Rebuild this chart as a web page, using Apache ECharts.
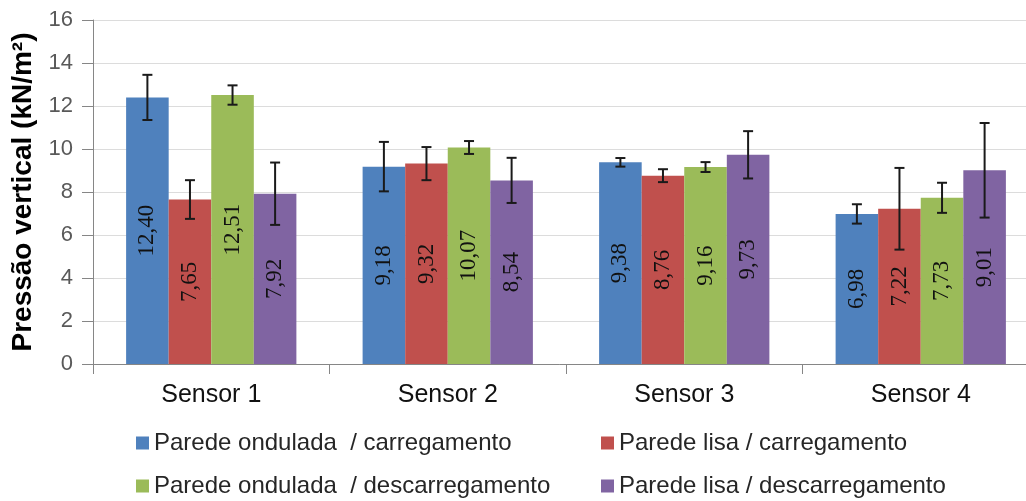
<!DOCTYPE html>
<html>
<head>
<meta charset="utf-8">
<script src="https://cdn.jsdelivr.net/npm/echarts@6/dist/echarts.min.js"></script>
<style>html,body{margin:0;padding:0;background:#fff;}#c{width:1026px;height:501px;}</style>
</head>
<body>
<div id="c"></div>
<script>
const categories = ['Sensor 1', 'Sensor 2', 'Sensor 3', 'Sensor 4'];
const seriesNames = ['Parede ondulada  / carregamento', 'Parede lisa / carregamento', 'Parede ondulada  / descarregamento', 'Parede lisa / descarregamento'];
const ondCarr = [12.40, 9.18, 9.38, 6.98];
const lisaCarr = [7.65, 9.32, 8.76, 7.22];
const ondDesc = [12.51, 10.07, 9.16, 7.73];
const lisaDesc = [7.92, 8.54, 9.73, 9.01];
const ondCarrErr = [1.05, 1.15, 0.20, 0.45];
const lisaCarrErr = [0.90, 0.77, 0.30, 1.90];
const ondDescErr = [0.45, 0.30, 0.23, 0.70];
const lisaDescErr = [1.45, 1.05, 1.10, 2.20];
const colors = ['#4F81BD', '#C0504D', '#9BBB59', '#8064A2'];

const values = [ondCarr, lisaCarr, ondDesc, lisaDesc];
const errors = [ondCarrErr, lisaCarrErr, ondDescErr, lisaDescErr];
const catGap = 0.28;

const chart = echarts.init(document.getElementById('c'));

const barSeries = values.map((v, i) => ({
  name: seriesNames[i],
  type: 'bar',
  data: v,
  barGap: '0%',
  barCategoryGap: (catGap * 100) + '%',
  itemStyle: { color: colors[i] },
  label: {
    show: true,
    position: 'inside',
    rotate: 90,
    fontFamily: 'Liberation Serif',
    fontSize: 23,
    color: '#111',
    formatter: p => p.value.toFixed(2).replace('.', ',')
  },
  z: 2
}));

const errData = [];
values.forEach((v, s) => v.forEach((val, c) => errData.push([c, val - errors[s][c], val + errors[s][c], s])));

const errSeries = {
  type: 'custom',
  coordinateSystem: 'cartesian2d',
  data: errData,
  encode: { x: 0, y: [1, 2] },
  z: 10,
  silent: true,
  renderItem: function (params, api) {
    const c = api.value(0), lo = api.value(1), hi = api.value(2), s = api.value(3);
    const band = api.size([1, 0])[0];
    const groupW = band * (1 - catGap);
    const bw = groupW / 4;
    const base = api.coord([c, lo]);
    const top = api.coord([c, hi]);
    const x = base[0] - groupW / 2 + bw * (s + 0.5);
    const cap = 5;
    const style = { stroke: '#1a1a1a', lineWidth: 2 };
    return {
      type: 'group',
      children: [
        { type: 'line', shape: { x1: x, y1: top[1], x2: x, y2: base[1] }, style: style },
        { type: 'line', shape: { x1: x - cap, y1: top[1], x2: x + cap, y2: top[1] }, style: style },
        { type: 'line', shape: { x1: x - cap, y1: base[1], x2: x + cap, y2: base[1] }, style: style }
      ]
    };
  }
};

const legendText = { fontFamily: 'Arial, Liberation Sans', fontSize: 24, color: '#262626' };
const legendPos = [[136, 431], [601, 431], [136, 474], [601, 474]];
const legends = seriesNames.map((n, i) => ({
  data: [n], left: legendPos[i][0], top: legendPos[i][1],
  itemWidth: 13, itemHeight: 13, itemGap: 5, icon: 'rect', padding: 0, textStyle: legendText
}));

chart.setOption({
  animation: false,
  backgroundColor: '#ffffff',
  grid: { left: 93, top: 20, right: -13, bottom: 137, outerBoundsMode: 'none', containLabel: false },
  legend: legends,
  xAxis: {
    type: 'category',
    data: categories,
    axisLine: { lineStyle: { color: '#868686', width: 1 } },
    axisTick: { show: true, length: 10, lineStyle: { color: '#868686' } },
    axisLabel: { fontFamily: 'Arial, Liberation Sans', fontSize: 25, color: '#111', margin: 19 }
  },
  yAxis: {
    type: 'value',
    min: 0,
    max: 16,
    interval: 2,
    name: 'Pressão vertical (kN/m²)',
    nameLocation: 'middle',
    nameGap: 53,
    nameRotate: 90,
    nameTextStyle: { fontFamily: 'Arial, Liberation Sans', fontWeight: 'bold', fontSize: 28, color: '#000' },
    axisLine: { show: true, lineStyle: { color: '#868686' } },
    axisTick: { show: true, length: 11, lineStyle: { color: '#868686' } },
    axisLabel: { fontFamily: 'Arial, Liberation Sans', fontSize: 22, color: '#595959', margin: 20 },
    splitLine: { lineStyle: { color: '#dcdcdc', width: 1 } }
  },
  series: [...barSeries, errSeries]
});
</script>
</body>
</html>
